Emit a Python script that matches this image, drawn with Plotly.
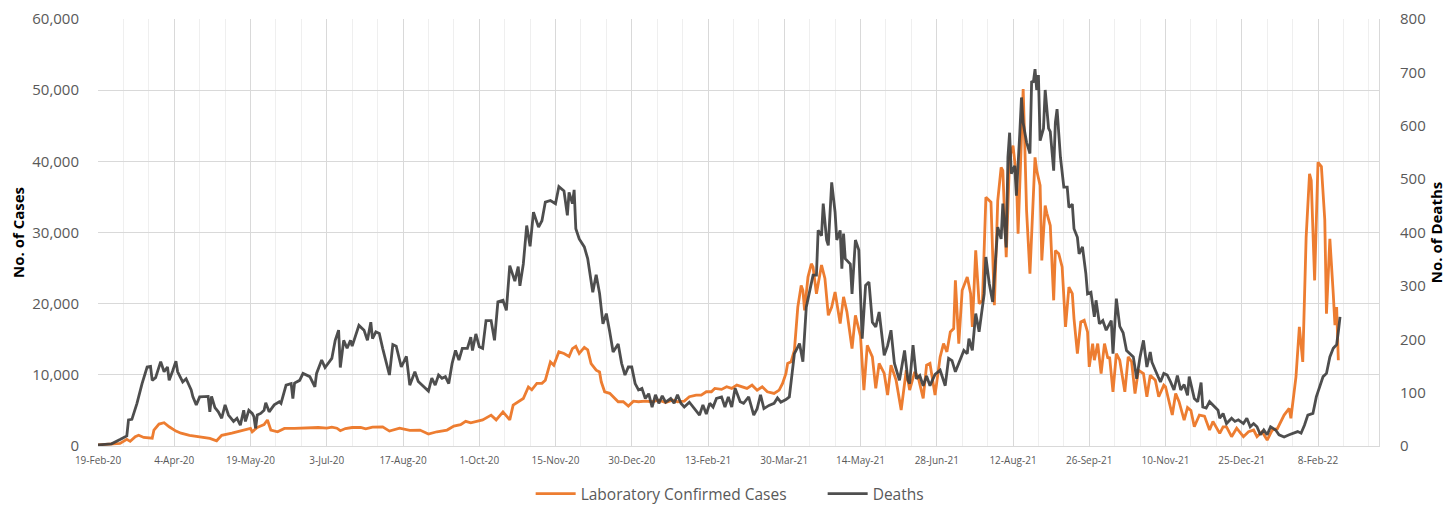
import pandas as pd
import plotly.graph_objects as go

START = "2020-02-19"

# Laboratory confirmed cases: (day offset from 19-Feb-20, value)
case_days = [0, 8, 13, 17, 19, 22, 24, 27, 30, 32, 33, 36, 39, 42, 46, 49, 54, 60, 66, 70, 73, 79, 82, 86, 90, 91, 94, 96, 98, 100, 102, 106, 110, 116, 121,
             125, 130, 135, 138, 141, 143, 146, 150, 155, 158, 162, 168, 172, 178, 184, 190, 195, 200, 206, 210, 214, 217, 220, 223, 227, 232, 235, 239, 243, 245, 248, 251, 254,
             256, 259, 262, 264, 267, 269, 272, 275, 278, 280, 282, 284, 287, 289, 291, 294, 296, 297, 299, 302, 304, 307, 310, 313, 316, 319, 323, 327, 331, 335, 339, 342, 346, 349, 353, 356, 359, 362, 364, 368, 371, 374, 377, 380,
             383, 386, 389, 392, 395, 399, 402, 404, 406, 407, 409, 411, 413, 415, 416, 417, 419, 421, 422, 424, 425, 427, 429, 431, 433, 435, 438, 440, 442, 445, 447, 450, 452, 454, 457, 459, 461, 464, 466, 468, 471, 474, 477, 479, 482, 484, 487, 489, 491, 494, 497, 499, 501, 503, 505, 506, 508,
             510, 513, 515, 516, 518, 520, 522, 524, 527, 529, 531, 533, 534, 536, 538, 540, 542, 543, 545, 546, 547, 548, 550, 552, 553, 554, 556, 557, 559, 560, 562, 564, 565, 567, 569, 571, 573, 575, 576, 578, 580, 582, 584, 585, 587, 588, 590, 592, 594, 596, 597, 599, 601, 603, 606, 608, 610, 612, 614, 617, 619, 621, 624, 626, 629,
             630, 632, 634, 636, 638, 641, 643, 645, 647, 650, 653, 656, 658, 662, 664, 666, 669, 672, 676, 679, 682, 684, 687, 690, 693, 696, 698, 700, 703, 704, 707, 709, 711, 713, 715, 716, 718, 719, 720, 722, 724, 725, 727, 729, 730, 731, 732]
case_values = [150, 250, 375, 940, 650, 1300, 1500, 1200, 1200, 1100, 2240, 3080, 3270, 2700, 2100, 1800, 1500, 1300, 1060, 730, 1500, 1800, 2000, 2240, 2470, 2000, 2600, 2800, 3000, 3650, 2240, 2000, 2470, 2470, 2500,
               2570, 2600, 2500, 2650, 2500, 2150, 2450, 2600, 2600, 2400, 2650, 2700, 2100, 2500, 2200, 2240, 1680, 2000, 2240, 2800, 3000, 3460, 3250, 3460, 3670, 4340, 3670, 4800, 3680, 5740, 6200, 6680, 8300,
               7900, 8790, 8800, 9250, 11820, 11350, 13230, 13000, 12580, 13690, 14000, 13000, 13850, 13500, 11590, 10650, 10400, 9020, 7620, 7400, 6920, 6220, 6220, 5610, 6300, 6220, 6300, 6220, 6450, 6100, 6450, 6220, 6300, 6920, 7150, 7150, 7620, 7620, 8090, 7950, 8320, 8090, 8550, 8320,
               8090, 8550, 7850, 8320, 7620, 7380, 7850, 8790, 10190, 11600, 11830, 13460, 19530, 22570, 21870, 19070, 23740, 25610, 25140, 21400, 22900, 25420, 23550, 18370, 19530, 21640, 17200, 20960, 18840, 13690, 18370, 15430, 7850, 14150, 12520, 8090, 11600, 10190, 7150, 11360, 9250, 5050, 10650, 7850, 10400, 9720, 6680, 11360, 11600, 7150, 12520, 14390, 13230, 16030, 16500, 23270, 14390,
               21870, 23740, 21400, 16730, 27480, 20000, 20470, 34960, 34260, 19770, 34490, 39160, 38700, 26540, 40560, 42200, 37850, 29820, 44300, 50150, 41960, 33090, 24210, 36360, 40560, 38700, 36600, 26080, 33790, 32700, 30980, 20470, 27480, 27020, 25160, 16730, 22340, 21400, 17900, 12990, 17430, 17660, 16030, 11120, 14390, 12060, 14390, 10190, 14390, 12290, 12520, 7620, 12990, 12060, 7620, 12520, 11830, 7380, 10650, 10190, 6920, 9950, 9250, 6920, 8550,
               8320, 6500, 4350, 7380, 6220, 3650, 5400, 5000, 2710, 4350, 4200, 2240, 3450, 1780, 2700, 2700, 1310, 2500, 1310, 2000, 2240, 1310, 2000, 840, 2240, 2430, 3450, 4350, 5280, 3900, 9720, 16730, 11820, 29350, 38230, 37300, 23270, 32150, 39860, 39270, 31770, 18600, 29120, 21400, 16990, 19530, 12060]

# Deaths: (day offset from 19-Feb-20, value)
death_days = [0, 8, 13, 17, 18, 20, 23, 26, 29, 31, 32, 34, 37, 39, 41, 42, 44, 46, 47, 50, 52, 55, 56, 58, 60, 63, 65, 66, 67, 69, 71, 73, 75, 77, 79, 80, 82, 84, 86, 87, 89, 91, 92, 93, 94, 96, 98, 99, 101, 104, 107, 108, 111, 114, 115, 116, 119, 121,
              125, 128, 129, 132, 134, 138, 140, 142, 143, 145, 147, 149, 150, 154, 157, 159, 161, 162, 164, 166, 168, 172, 174, 176, 179, 182, 184, 187, 189, 192, 195, 197, 199, 201, 203, 205, 207, 209, 211, 213, 215, 218, 220, 221, 223, 225, 227, 229, 232, 234, 236, 239, 241, 243, 246, 248, 249, 251, 253,
              255, 257, 260, 262, 264, 267, 270, 272, 275, 277, 278, 280, 281, 282, 284, 287, 289, 292, 294, 296, 298, 300, 302, 304, 307, 309, 311, 313, 315, 317, 319, 321, 323, 325, 327, 329, 331, 333, 335, 338, 340, 342, 344, 346, 349, 352, 355, 357, 359, 361, 363, 365, 368, 370, 372, 374, 376, 379, 381,
              384, 387, 389, 391, 393, 396, 399, 401, 403, 406, 408, 409, 411, 414, 416, 418, 420, 422, 424, 425, 427, 428, 430, 431, 433, 435, 436, 438, 439, 440, 441, 444, 445, 447, 449, 451, 453, 455, 457, 459, 461, 464, 466, 468, 470, 473, 476, 478, 479, 481, 483, 485, 487, 489, 491, 494, 497, 500, 502, 504,
              506, 508, 511, 513, 514, 516, 518, 520, 521, 523, 524, 526, 528, 530, 531, 533, 534, 536, 537, 538, 539, 541, 542, 544, 545, 546, 548, 550, 551, 552, 553, 554, 555, 556, 558, 559, 561, 562, 564, 565, 566, 568, 570, 572, 573, 575, 576, 578, 579, 581, 583, 584, 586, 588, 589, 591, 593, 595, 598, 599, 601, 603, 605, 607, 609, 611, 613, 615, 617, 619, 621, 622, 624, 627, 629, 631,
              633, 635, 637, 639, 641, 643, 644, 647, 649, 651, 652, 654, 656, 658, 661, 662, 664, 666, 669, 671, 673, 676, 678, 680, 682, 684, 686, 688, 690, 692, 695, 697, 700, 703, 705, 708, 710, 712, 714, 717, 719, 721, 723, 725, 727, 729, 731, 732, 733]
death_values = [2, 4, 12, 19, 49, 50, 80, 117, 148, 149, 123, 128, 158, 139, 148, 123, 140, 159, 139, 120, 126, 105, 92, 77, 92, 93, 93, 64, 93, 72, 64, 52, 77, 58, 49, 46, 52, 39, 67, 46, 67, 61, 55, 33, 58, 61, 67, 81, 64, 77, 83, 80, 114, 117, 89, 118, 123, 136,
                130, 111, 136, 161, 147, 164, 198, 217, 147, 198, 183, 198, 187, 226, 217, 198, 232, 201, 214, 211, 183, 133, 190, 187, 148, 168, 114, 139, 121, 111, 103, 127, 114, 133, 127, 130, 117, 155, 179, 161, 183, 183, 204, 179, 210, 186, 183, 235, 235, 198, 270, 273, 254, 338, 309, 336, 300, 341, 413,
                374, 438, 410, 422, 457, 460, 454, 486, 478, 432, 475, 454, 480, 407, 388, 373, 351, 288, 321, 286, 229, 248, 214, 176, 191, 155, 133, 148, 148, 117, 105, 108, 89, 98, 73, 96, 80, 94, 82, 89, 80, 96, 80, 73, 82, 70, 58, 77, 60, 80, 73, 89, 92, 73, 92, 73, 108, 83, 80,
                92, 58, 70, 96, 70, 76, 80, 90, 82, 87, 92, 123, 173, 192, 158, 260, 292, 320, 320, 404, 394, 454, 386, 376, 494, 438, 386, 404, 332, 398, 351, 341, 285, 386, 367, 201, 301, 307, 232, 223, 251, 170, 188, 217, 155, 123, 179, 123, 117, 189, 126, 132, 113, 131, 113, 134, 142, 113, 164, 160,
                139, 156, 179, 173, 201, 179, 248, 214, 235, 285, 354, 304, 270, 372, 410, 388, 454, 372, 541, 587, 510, 525, 469, 586, 653, 605, 569, 548, 684, 681, 706, 667, 695, 572, 595, 667, 595, 589, 516, 606, 631, 541, 485, 485, 447, 453, 407, 391, 360, 373, 323, 285, 288, 242, 273, 229, 235, 217, 235, 173, 276, 224, 212, 179, 173, 167, 126, 167, 198, 148, 176, 157, 142, 120, 136, 133,
                120, 105, 132, 105, 115, 95, 130, 89, 83, 119, 73, 71, 83, 77, 67, 52, 61, 42, 52, 46, 49, 42, 52, 36, 42, 36, 21, 30, 21, 36, 30, 21, 17, 21, 24, 27, 24, 39, 58, 61, 92, 111, 130, 136, 167, 183, 190, 214, 242]

tick_labels = ["19-Feb-20", "4-Apr-20", "19-May-20", "3-Jul-20", "17-Aug-20", "1-Oct-20", "15-Nov-20", "30-Dec-20",
               "13-Feb-21", "30-Mar-21", "14-May-21", "28-Jun-21", "12-Aug-21", "26-Sep-21", "10-Nov-21", "25-Dec-21", "8-Feb-22"]

start = pd.Timestamp(START)
case_dates = start + pd.to_timedelta(case_days, unit="D")
death_dates = start + pd.to_timedelta(death_days, unit="D")
tick_vals = pd.to_datetime(tick_labels, format="%d-%b-%y")

fig = go.Figure()
fig.add_trace(go.Scatter(x=case_dates, y=case_values, mode="lines", name="Laboratory Confirmed Cases",
                         line=dict(color="#ED7D31", width=2.8), yaxis="y"))
fig.add_trace(go.Scatter(x=death_dates, y=death_values, mode="lines", name="Deaths",
                         line=dict(color="#404040", width=2.8), opacity=0.92, yaxis="y2"))

grid = "#D9D9D9"
tick_font = dict(family="Open Sans, sans-serif", size=15, color="#595959")
# the page adds an 8px body margin, so the figure is 8px smaller than the window
fig.update_layout(
    width=1447, height=498,
    margin=dict(l=90, r=76, t=11, b=60, autoexpand=False),
    paper_bgcolor="white", plot_bgcolor="white",
    font=dict(family="Open Sans, sans-serif", color="#595959"),
    showlegend=True,
    legend=dict(orientation="h", xref="container", x=0.563, xanchor="center",
                yref="container", y=0.024, yanchor="middle",
                font=dict(size=15.5, color="#595959"), itemwidth=40, traceorder="normal",
                entrywidth=237, entrywidthmode="pixels"),
    xaxis=dict(type="date", range=[start, start + pd.Timedelta(days=756)], automargin=False,
               tickmode="array", tickvals=tick_vals, ticktext=tick_labels,
               tickfont=dict(family="Open Sans, sans-serif", size=10, color="#595959"),
               showgrid=True, gridcolor=grid, gridwidth=1,
               minor=dict(dtick=15 * 86400000, tick0=START, showgrid=True, gridcolor="#EFEFEF", gridwidth=1),
               showline=True, linecolor=grid, linewidth=1, zeroline=False, ticks="", ticklabelstandoff=5,
               ticklabeloverflow="allow"),
    yaxis=dict(range=[0, 60000], dtick=10000, tickformat=",", tickfont=tick_font, automargin=False,
               showgrid=True, gridcolor=grid, zeroline=False, showline=False,
               ticklabelstandoff=18, ticklabeloverflow="allow",
               title=dict(text="<b>No. of Cases</b>", font=dict(size=15, color="#000000"), standoff=3)),
    yaxis2=dict(range=[0, 800], dtick=100, overlaying="y", side="right", tickfont=tick_font, automargin=False,
                showgrid=False, zeroline=False, showline=True, linecolor=grid,
                ticklabelstandoff=17, ticklabeloverflow="allow",
                title=dict(text="<b>No. of Deaths</b>", font=dict(size=15, color="#000000"), standoff=5)),
)

fig.write_html("out.html")
